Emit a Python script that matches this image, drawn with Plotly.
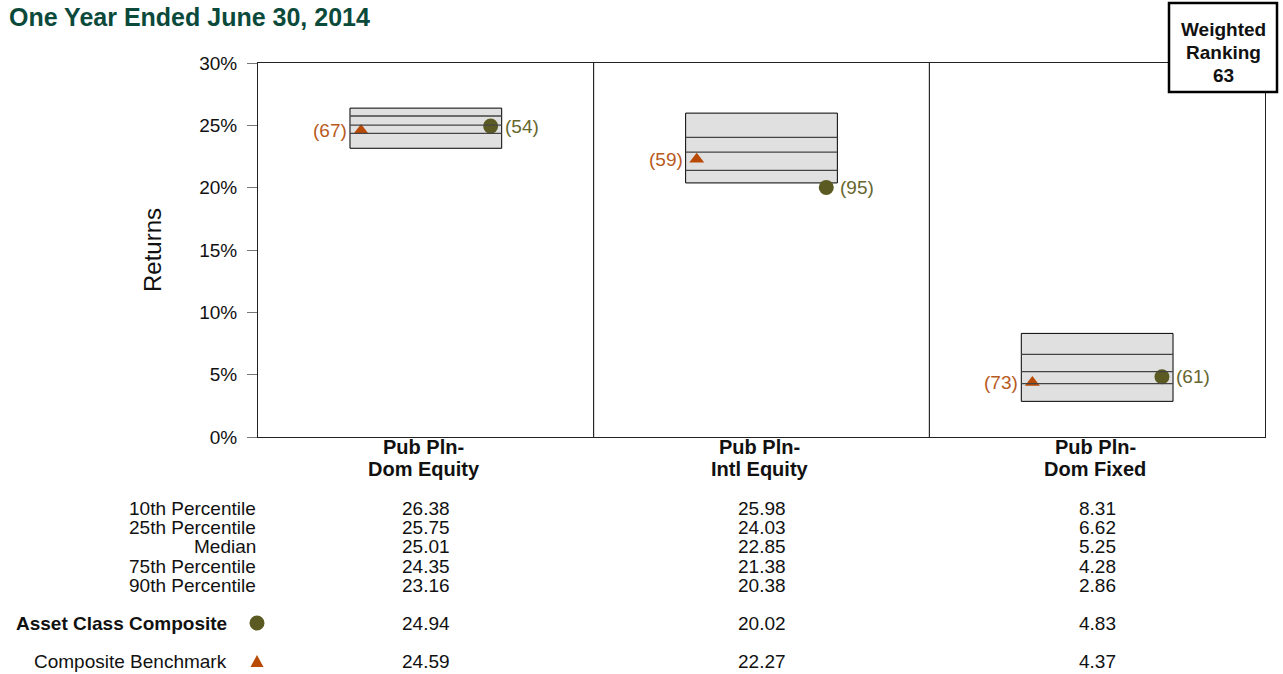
import plotly.graph_objects as go

title = "One Year Ended June 30, 2014"
cat_line1 = ["Pub Pln-", "Pub Pln-", "Pub Pln-"]
cat_line2 = ["Dom Equity", "Intl Equity", "Dom Fixed"]
p10 = [26.38, 25.98, 8.31]
p25 = [25.75, 24.03, 6.62]
median = [25.01, 22.85, 5.25]
p75 = [24.35, 21.38, 4.28]
p90 = [23.16, 20.38, 2.86]
composite = [24.94, 20.02, 4.83]
composite_rank = [54, 95, 61]
benchmark = [24.59, 22.27, 4.37]
benchmark_rank = [67, 59, 73]
row_labels = ["10th Percentile", "25th Percentile", "Median", "75th Percentile", "90th Percentile"]
ranking_lines = ["Weighted", "Ranking", "63"]

OLIVE = "#5b5a22"
OLIVE_TXT = "#66662e"
ORANGE = "#b84a05"
ORANGE_TXT = "#b85a1e"
FONT = "Liberation Sans, Arial, sans-serif"
FS = 19
TXT = "#111111"

W, H = 1283, 674
PX0, PX1, PY0, PY1 = 258, 1265, 63, 437  # plot area in pixels
L, T, R, B = PX0, PY0, W - PX1, H - PY1
PW = PX1 - PX0
PH = PY1 - PY0

def px(xpix):
    return (xpix - PX0) / PW

def py(ypix):
    return (PY1 - ypix) / PH

centers = [i + 0.5 for i in range(len(p10))]
half = 0.226
moff = 0.193

fig = go.Figure()
shapes = []
ann = []

def text(x, y, s, xref="paper", yref="paper", xanchor="center", size=FS, color=TXT, xshift=0):
    ann.append(dict(x=x, y=y, xref=xref, yref=yref, text=s, showarrow=False,
                    xanchor=xanchor, yanchor="middle", xshift=xshift,
                    font=dict(size=size, color=color, family=FONT)))

for i, c in enumerate(centers):
    shapes.append(dict(type="rect", xref="x", yref="y", x0=c - half, x1=c + half,
                       y0=p90[i], y1=p10[i], fillcolor="#e0e0e0",
                       line=dict(color="#000000", width=1), layer="below"))
    for v in (p25[i], median[i], p75[i]):
        shapes.append(dict(type="line", xref="x", yref="y", x0=c - half, x1=c + half,
                           y0=v, y1=v, line=dict(color="#444444", width=1.3)))
    text(c + half, composite[i], f"({composite_rank[i]})", "x", "y", "left", color=OLIVE_TXT, xshift=1)
    text(c - half, benchmark[i], f"({benchmark_rank[i]})", "x", "y", "right", color=ORANGE_TXT, xshift=-1)
    text(c, py(447), f"<b>{cat_line1[i]}</b>", "x", size=20, xshift=-2)
    text(c, py(469), f"<b>{cat_line2[i]}</b>", "x", size=20, xshift=-2)

# panel separators
for xv in (1, 2):
    shapes.append(dict(type="line", xref="x", yref="paper", x0=xv, x1=xv, y0=0, y1=1,
                       line=dict(color="#000000", width=1)))

fig.add_trace(go.Scatter(x=[c - moff for c in centers], y=benchmark, mode="markers",
                         marker=dict(symbol="triangle-up", size=13, color=ORANGE),
                         showlegend=False, hoverinfo="skip"))
fig.add_trace(go.Scatter(x=[c + moff for c in centers], y=composite, mode="markers",
                         marker=dict(symbol="circle", size=15, color=OLIVE),
                         showlegend=False, hoverinfo="skip"))

# table
row_y = [508, 527, 546, 566, 585]
series = [p10, p25, median, p75, p90]
for r, (lab, vals) in enumerate(zip(row_labels, series)):
    text(px(257), py(row_y[r]), lab, xanchor="right", xshift=1)
    for i, c in enumerate(centers):
        text(c, py(row_y[r]), f"{vals[i]:.2f}", "x")

for lab, vals, yp, bold in (("Asset Class Composite", composite, 623, True),
                            ("Composite Benchmark", benchmark, 661, False)):
    text(px(229), py(yp), f"<b>{lab}</b>" if bold else lab, xanchor="right")
    for i, c in enumerate(centers):
        text(c, py(yp), f"{vals[i]:.2f}", "x")

# table legend symbols
mx, r_c = 257, 7.5
shapes.append(dict(type="circle", xref="paper", yref="paper",
                   x0=px(mx - r_c), x1=px(mx + r_c), y0=py(623 + r_c), y1=py(623 - r_c),
                   fillcolor=OLIVE, line=dict(width=0)))
ty, tw, th = 661, 6.5, 6
shapes.append(dict(type="path", xref="paper", yref="paper",
                   path=f"M{px(mx - tw)},{py(ty + th)} L{px(mx + tw)},{py(ty + th)} L{px(mx)},{py(ty - th)} Z",
                   fillcolor=ORANGE, line=dict(width=0)))

# title
ann.append(dict(x=px(7), xref="paper", y=py(17), yref="paper", text=f"<b>{title}</b>",
                showarrow=False, xanchor="left", yanchor="middle",
                font=dict(size=25, color="#0b4a3b", family=FONT)))

# weighted ranking box
bx0, bx1, by0, by1 = 1169, 1277, 3, 92
shapes.append(dict(type="rect", xref="paper", yref="paper",
                   x0=px(bx0), x1=px(bx1), y0=py(by1), y1=py(by0), fillcolor="white",
                   line=dict(color="black", width=2.5), layer="above"))
for k, (s, yy) in enumerate(zip(ranking_lines, (29, 52, 75))):
    text(px((bx0 + bx1) / 2), py(yy), f"<b>{s}</b>")

fig.update_layout(
    width=W, height=H,
    margin=dict(l=L, r=R, t=T, b=B, pad=0),
    plot_bgcolor="white", paper_bgcolor="white",
    shapes=shapes, annotations=ann,
    font=dict(family=FONT, size=FS, color=TXT),
    xaxis=dict(range=[0, 3], showticklabels=False,
               showgrid=False, zeroline=False, ticks="", showline=True, mirror=True,
               linecolor="#222222", linewidth=1),
    yaxis=dict(range=[0, 30], dtick=5, ticksuffix="%", showgrid=False, zeroline=False,
               ticks="outside", ticklen=10, tickcolor="#777777", showline=True, mirror=True,
               linecolor="#222222", linewidth=1, tickfont=dict(size=FS, color=TXT),
               ticklabelstandoff=6,
               title=dict(text="Returns", font=dict(size=24, color=TXT), standoff=30)),
)

fig.write_html("out.html", config={"displayModeBar": False},
               post_script="document.body.style.margin='0';document.body.style.padding='0';")
